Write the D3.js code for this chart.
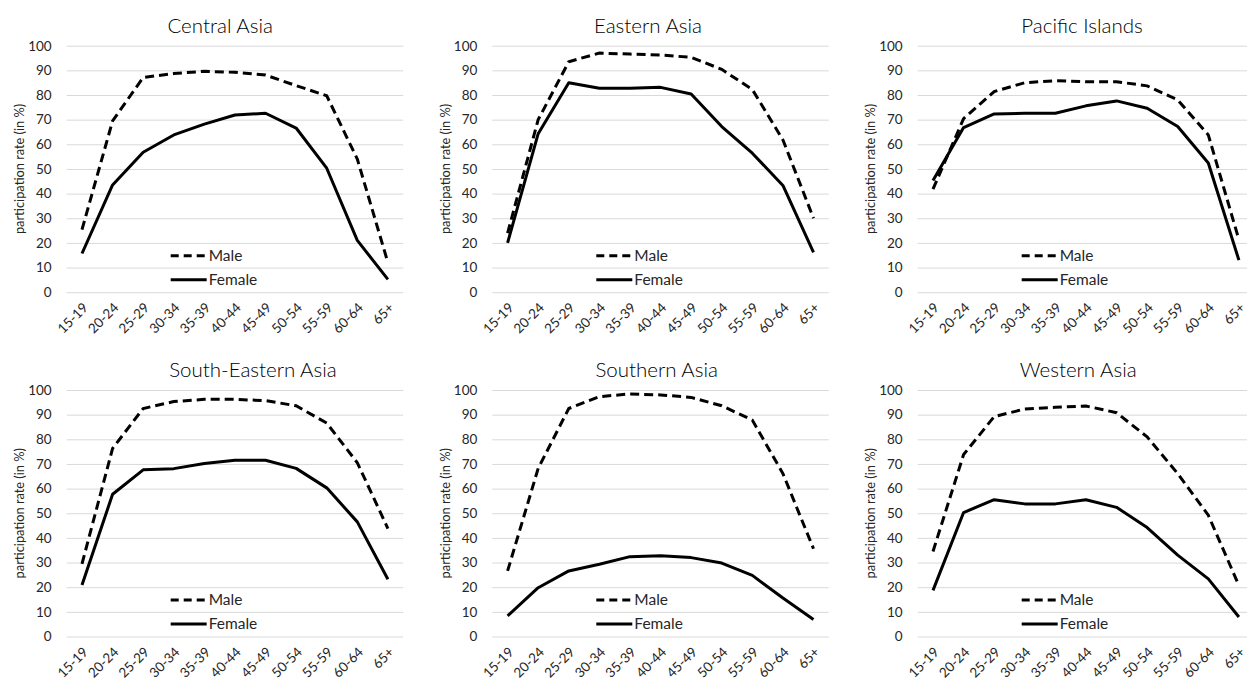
<!DOCTYPE html>
<html>
<head>
<meta charset="utf-8">
<script src="https://cdn.jsdelivr.net/npm/d3@7"></script>
<style>
  body { margin: 0; background: #fff; overflow: hidden; }
  svg { display: block; font-family: Lato, "Open Sans", sans-serif; }
</style>
</head>
<body>
<div id="chart"></div>
<script>
// chart data
var ageGroups = ["15-19", "20-24", "25-29", "30-34", "35-39", "40-44", "45-49", "50-54", "55-59", "60-64", "65+"];
var regions = ["Central Asia", "Eastern Asia", "Pacific Islands", "South-Eastern Asia", "Southern Asia", "Western Asia"];
var seriesNames = ["Male", "Female"];
var yTicks = [0, 10, 20, 30, 40, 50, 60, 70, 80, 90, 100];

var maleRates = [
  [25.4, 69.5, 87.1, 88.7, 89.6, 89.2, 88.1, 83.8, 79.7, 54.0, 12.0],
  [24.0, 70.0, 93.5, 97.0, 96.6, 96.2, 95.3, 90.4, 82.2, 61.8, 30.0],
  [41.8, 70.4, 81.4, 85.0, 85.8, 85.4, 85.4, 83.7, 78.0, 63.8, 21.3],
  [29.5, 76.3, 92.5, 95.3, 96.2, 96.2, 95.7, 93.6, 86.6, 70.5, 43.8],
  [26.6, 68.2, 92.5, 97.3, 98.4, 98.0, 97.0, 93.6, 87.8, 66.1, 35.6],
  [34.5, 73.8, 89.2, 92.3, 93.0, 93.5, 90.8, 81.0, 66.1, 49.2, 20.7]
];
var femaleRates = [
  [15.7, 43.5, 56.8, 63.8, 68.2, 71.9, 72.6, 66.6, 50.3, 21.0, 5.2],
  [20.0, 64.3, 85.0, 82.7, 82.7, 83.1, 80.4, 67.2, 56.4, 43.3, 16.2],
  [45.3, 66.8, 72.3, 72.6, 72.6, 75.6, 77.6, 74.6, 67.2, 52.4, 13.0],
  [20.9, 57.7, 67.6, 68.1, 70.2, 71.5, 71.5, 68.2, 60.3, 46.5, 23.2],
  [8.4, 19.8, 26.6, 29.3, 32.4, 32.8, 32.0, 29.8, 24.8, 15.6, 6.9],
  [18.7, 50.3, 55.5, 53.8, 53.8, 55.5, 52.4, 44.2, 33.0, 23.4, 7.9]
];

// layout of the 3x2 grid (plot area of each small chart)
var plotW = 336.5,
    plotH = 246.5,
    colLeft = [66.7, 492.3, 917.7],
    rowTop = [45.7, 390],
    titleOffset = [153.5, 155.7, 164.3, 186.3, 164.4, 160.5];

var textColor = "#262626";

var svg = d3.select("#chart").append("svg")
  .attr("width", 1247)
  .attr("height", 684);

var x = d3.scalePoint()
  .domain(ageGroups)
  .range([0, plotW])
  .padding(0.5);

var y = d3.scaleLinear()
  .domain([0, 100])
  .range([plotH, 0]);

var line = d3.line()
  .x(function(d, i) { return x(ageGroups[i]); })
  .y(function(d) { return y(d); });

regions.forEach(function(region, k) {
  var col = k % 3, row = Math.floor(k / 3);
  var g = svg.append("g")
    .attr("transform", "translate(" + colLeft[col] + "," + rowTop[row] + ")");

  // gridlines
  g.append("g")
    .call(d3.axisLeft(y).tickValues(yTicks).tickSize(-plotW).tickFormat(""))
    .call(function(a) {
      a.select(".domain").remove();
      a.selectAll(".tick line").attr("stroke", "#d9d9d9").attr("stroke-width", 1);
    });

  // y tick labels
  g.append("g")
    .call(d3.axisLeft(y).tickValues(yTicks).tickSize(0).tickPadding(15))
    .call(function(a) {
      a.select(".domain").remove();
      a.selectAll("text")
        .attr("fill", textColor)
        .style("font-size", "13.5px")
        .style("font-family", "Lato, sans-serif");
    });

  // x tick labels, rotated
  g.append("g")
    .attr("transform", "translate(0," + plotH + ")")
    .call(d3.axisBottom(x).tickSize(0).tickPadding(0))
    .call(function(a) {
      a.select(".domain").remove();
      a.selectAll("text")
        .attr("fill", textColor)
        .style("font-size", "13.5px")
        .style("font-family", "Lato, sans-serif")
        .attr("text-anchor", "end")
        .attr("dy", "0.35em")
        .attr("y", 0)
        .attr("transform", "translate(3,13) rotate(-45)");
    });

  // y axis title
  g.append("text")
    .attr("transform", "translate(-47," + (plotH / 2) + ") rotate(-90)")
    .attr("text-anchor", "middle")
    .attr("dy", "0.35em")
    .attr("fill", textColor)
    .style("font-size", "12.8px")
    .text("participation rate (in %)");

  // chart title
  g.append("text")
    .attr("x", titleOffset[k])
    .attr("y", -13)
    .attr("text-anchor", "middle")
    .attr("fill", "#000")
    .style("font-size", "20.5px")
    .style("font-weight", 300)
    .text(region);

  // lines
  g.append("path")
    .datum(maleRates[k])
    .attr("fill", "none")
    .attr("stroke", "#000")
    .attr("stroke-width", 3)
    .attr("stroke-dasharray", "9,5")
    .attr("d", line);

  g.append("path")
    .datum(femaleRates[k])
    .attr("fill", "none")
    .attr("stroke", "#000")
    .attr("stroke-width", 3)
    .attr("stroke-linejoin", "round")
    .attr("d", line);

  // legend
  var legend = g.selectAll(".legend")
    .data(seriesNames)
    .enter().append("g")
    .attr("class", "legend")
    .attr("transform", function(d, i) {
      return "translate(104," + (plotH - 36.5 + i * 24) + ")";
    });

  legend.append("line")
    .attr("x1", 0)
    .attr("x2", 36)
    .attr("stroke", "#000")
    .attr("stroke-width", 3)
    .attr("stroke-dasharray", function(d, i) { return i === 0 ? "8,5" : null; });

  legend.append("text")
    .attr("x", 38)
    .attr("dy", "0.35em")
    .attr("fill", textColor)
    .style("font-size", "15.5px")
    .text(function(d) { return d; });
});
</script>
</body>
</html>
